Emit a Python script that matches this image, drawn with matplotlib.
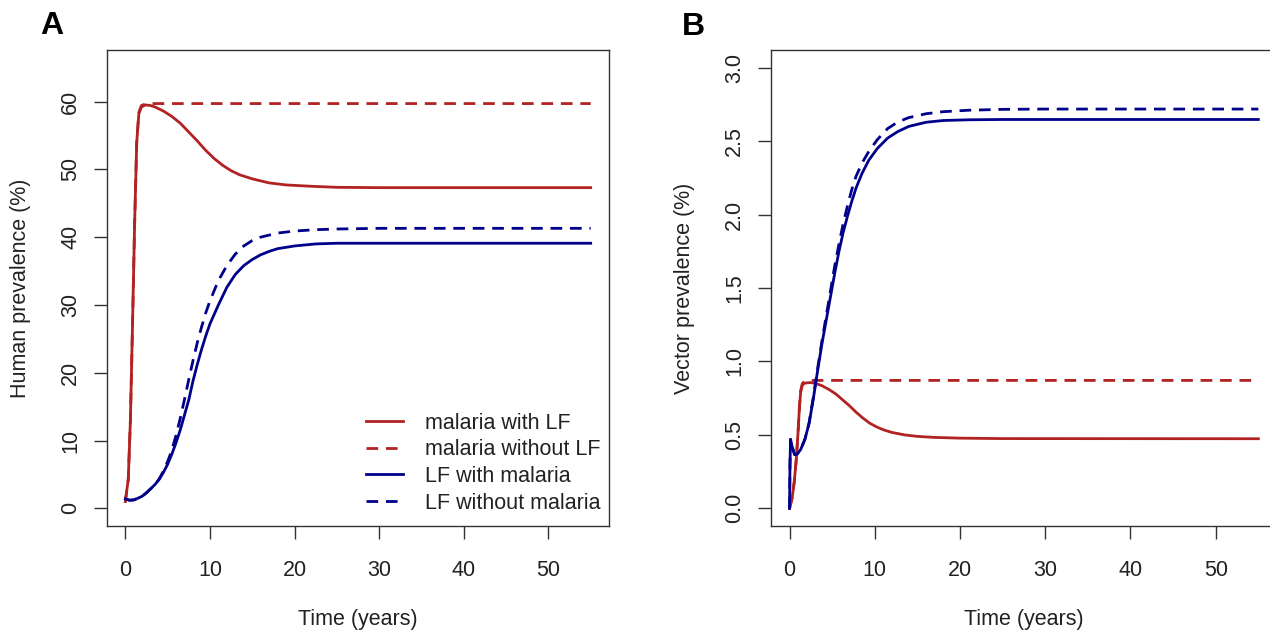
import matplotlib
matplotlib.use("Agg")
import matplotlib.pyplot as plt
from matplotlib.ticker import FormatStrFormatter

plt.rcParams['font.family'] = ['Liberation Sans', 'DejaVu Sans']

RED = "#B22222"
BLUE = "#00008B"

# Panel A - human prevalence (%)
t_mal_lf = [0, 0.35, 0.6, 0.85, 1.1, 1.35, 1.6, 1.9, 2.4, 3.0, 3.5, 4.5, 5.5, 6.5, 7.5, 8.5,
            9.5, 10.5, 11.5, 12.5, 13.5, 15, 17, 19, 22, 25, 30, 40, 55]
h_mal_lf = [1.0, 4.3, 13, 27, 42, 54, 58.2, 59.2, 59.5, 59.4, 59.2, 58.6, 57.8, 56.8, 55.5, 54.2,
            52.8, 51.6, 50.6, 49.8, 49.2, 48.6, 48.0, 47.7, 47.5, 47.35, 47.3, 47.3, 47.3]

t_mal_only = [0, 0.35, 0.6, 0.85, 1.1, 1.35, 1.6, 1.9, 2.4, 3.0, 55]
h_mal_only = [1.0, 4.3, 13, 27, 42, 54, 58.4, 59.4, 59.65, 59.7, 59.7]

t_lf = [0, 0.5, 1.0, 1.5, 2.0, 2.5, 3.0, 3.5, 4.0, 4.5, 5.0, 5.5, 6.0, 6.5, 7.0, 7.5, 8.0, 8.5,
        9.0, 9.5, 10.0, 11.0, 12.0, 13.0, 14.0, 15.0, 16.0, 17.0, 18.0, 20.0, 22.5, 25, 30, 55]
h_lf_mal = [1.4, 1.2, 1.25, 1.5, 1.8, 2.3, 2.9, 3.5, 4.3, 5.3, 6.5, 8.0, 9.7, 11.6, 13.8, 16.0,
            18.8, 21.2, 23.4, 25.4, 27.2, 30.0, 32.6, 34.5, 35.8, 36.7, 37.4, 37.9, 38.3, 38.7,
            39.0, 39.1, 39.1, 39.1]
h_lf_only = [1.4, 1.2, 1.25, 1.5, 1.8, 2.3, 2.9, 3.5, 4.3, 5.5, 6.9, 8.6, 10.8, 13.3, 16.1, 19.0,
             21.8, 24.4, 26.7, 28.8, 30.6, 33.6, 35.8, 37.5, 38.7, 39.5, 40.0, 40.3, 40.6, 40.9,
             41.1, 41.2, 41.3, 41.3]

# Panel B - vector prevalence (%)
tv_mal = [0, 0.3, 0.55, 0.8, 1.0, 1.15, 1.3, 1.5, 1.8, 2.4, 3.0, 3.8, 4.6, 5.4, 6.2, 7.0, 7.8,
          8.6, 9.4, 10.2, 11, 12, 13.5, 15, 17, 20, 25, 55]
v_mal_lf = [0.0, 0.07, 0.18, 0.34, 0.52, 0.68, 0.79, 0.84, 0.853, 0.856, 0.852, 0.835, 0.81,
            0.78, 0.74, 0.70, 0.655, 0.615, 0.58, 0.555, 0.535, 0.517, 0.50, 0.49, 0.483,
            0.478, 0.475, 0.474]
tv_mal_only = [0, 0.3, 0.55, 0.8, 1.0, 1.15, 1.3, 1.5, 1.8, 2.4, 55]
v_mal_only = [0.0, 0.07, 0.18, 0.34, 0.52, 0.68, 0.80, 0.85, 0.866, 0.871, 0.871]

tv_lf = [0, 0.05, 0.12, 0.3, 0.6, 0.9, 1.3, 1.8, 2.3, 2.8, 3.3, 3.8, 4.3, 4.8, 5.3, 5.8, 6.3,
         6.8, 7.3, 7.8, 8.5, 9.3, 10.3, 11.5, 12.7, 14, 16, 18, 21, 25, 30, 55]
v_lf_mal = [0.0, 0.3, 0.47, 0.42, 0.365, 0.37, 0.40, 0.47, 0.58, 0.75, 0.94, 1.12, 1.28, 1.44,
            1.60, 1.75, 1.88, 1.99, 2.09, 2.18, 2.28, 2.37, 2.45, 2.52, 2.565, 2.60, 2.628,
            2.64, 2.645, 2.647, 2.647, 2.647]
v_lf_only = [0.0, 0.3, 0.47, 0.42, 0.365, 0.37, 0.40, 0.47, 0.585, 0.76, 0.955, 1.14, 1.31,
             1.48, 1.65, 1.80, 1.94, 2.06, 2.17, 2.26, 2.35, 2.43, 2.51, 2.585, 2.63, 2.66,
             2.686, 2.70, 2.71, 2.716, 2.718, 2.718]

labels = ["malaria with LF", "malaria without LF", "LF with malaria", "LF without malaria"]

fig = plt.figure(figsize=(12.7, 6.31), dpi=100)
axA = fig.add_axes([106.7 / 1270, 105 / 631, 502.6 / 1270, 476 / 631])
axB = fig.add_axes([770.8 / 1270, 105 / 631, 506.3 / 1270, 476 / 631])

LW = 2.0
DASH = (4.2, 2.8)
FS = 15.5


def style(ax, ylabel):
    ax.set_xlim(-2.2, 57.2)
    ax.set_xticks(range(0, 51, 10))
    for s in ax.spines.values():
        s.set_color("#333333")
        s.set_linewidth(1.0)
    ax.tick_params(direction="out", length=9.4, width=1.0, color="#333333",
                   labelsize=FS, labelcolor="#222222")
    ax.tick_params(axis="x", pad=15)
    ax.tick_params(axis="y", pad=9)
    for lab in ax.get_yticklabels():
        lab.set_rotation(90)
        lab.set_va("center")
    ax.set_xlabel("Time (years)", fontsize=FS, color="#222222", labelpad=20)
    ax.set_ylabel(ylabel, fontsize=FS, color="#222222", labelpad=21)


# Panel A
axA.plot(t_mal_lf, h_mal_lf, color=RED, lw=LW, label=labels[0])
axA.plot(t_mal_only, h_mal_only, color=RED, lw=LW, dashes=DASH, label=labels[1])
axA.plot(t_lf, h_lf_mal, color=BLUE, lw=LW, label=labels[2])
axA.plot(t_lf, h_lf_only, color=BLUE, lw=LW, dashes=DASH, label=labels[3])
axA.set_ylim(-2.6, 67.6)
axA.set_yticks(range(0, 61, 10))
style(axA, "Human prevalence (%)")
for lab in axA.get_yticklabels():
    lab.set_rotation(90)
    lab.set_va("center")
leg = axA.legend(loc="lower right", bbox_to_anchor=(0.982, 0.026), frameon=False,
                 fontsize=FS, handlelength=1.72, handletextpad=1.0, labelspacing=0.26,
                 borderaxespad=0, borderpad=0)
for txt in leg.get_texts():
    txt.set_color("#222222")

# Panel B
axB.plot(tv_mal, v_mal_lf, color=RED, lw=LW)
axB.plot(tv_mal_only, v_mal_only, color=RED, lw=LW, dashes=DASH)
axB.plot(tv_lf, v_lf_mal, color=BLUE, lw=LW)
axB.plot(tv_lf, v_lf_only, color=BLUE, lw=LW, dashes=DASH)
axB.set_ylim(-0.12, 3.12)
axB.set_yticks([0, 0.5, 1.0, 1.5, 2.0, 2.5, 3.0])
axB.yaxis.set_major_formatter(FormatStrFormatter("%.1f"))
style(axB, "Vector prevalence (%)")
for lab in axB.get_yticklabels():
    lab.set_rotation(90)
    lab.set_va("center")

fig.text(40 / 1270, 1 - 26 / 631, "A", fontsize=23, fontweight="bold", va="center", ha="left")
fig.text(682 / 1270, 1 - 27 / 631, "B", fontsize=23, fontweight="bold", va="center", ha="left")

fig.savefig("out.png", dpi=100)
